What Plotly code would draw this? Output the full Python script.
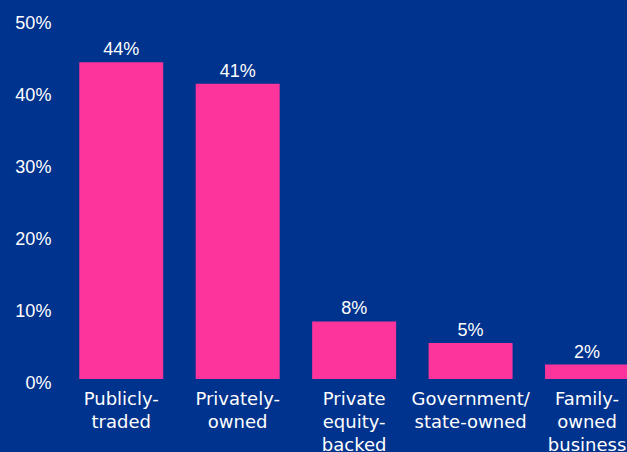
import plotly.graph_objects as go

categories = ["Publicly-<br>traded", "Privately-<br>owned", "Private<br>equity-<br>backed",
              "Government/<br>state-owned", "Family-<br>owned<br>business"]
values = [44, 41, 8, 5, 2]
value_labels = ["44%", "41%", "8%", "5%", "2%"]
y_ticks = [0, 10, 20, 30, 40, 50]
y_tick_labels = ["0%", "10%", "20%", "30%", "40%", "50%"]

BG = "#00338D"
PINK = "#FD349C"
FONT = "Liberation Sans, Arial, sans-serif"
XFONT = "DejaVu Sans, sans-serif"

fig = go.Figure(go.Bar(
    x=list(range(len(categories))), y=values,
    marker=dict(color=PINK, line=dict(width=0)),
    text=value_labels, textposition="outside", cliponaxis=False,
    textfont=dict(color="white", size=18, family=FONT),
))

fig.update_layout(
    width=627, height=452,
    margin=dict(l=63, r=0, t=19, b=73),
    paper_bgcolor=BG, plot_bgcolor=BG,
    bargap=0.279, showlegend=False,
    font=dict(family=FONT, color="white", size=18),
    xaxis=dict(tickmode="array", tickvals=list(range(len(categories))), ticktext=categories,
               range=[-0.5, 4.343], showgrid=False, zeroline=False, showline=False,
               automargin=False,
               ticks="outside", ticklen=3, tickcolor=BG,
               tickfont=dict(size=18, color="white", family=XFONT)),
    yaxis=dict(range=[0, 50], tickmode="array", tickvals=y_ticks, ticktext=y_tick_labels,
               showgrid=False, zeroline=False, showline=False, automargin=False,
               ticks="outside", ticklen=7, tickcolor=BG, ticklabelshift=4,
               tickfont=dict(size=18, color="white", family=FONT)),
)

fig.write_html(
    "out.html",
    config={"displayModeBar": False},
    post_script="document.body.style.margin='0';document.body.style.background='#00338D';",
)
